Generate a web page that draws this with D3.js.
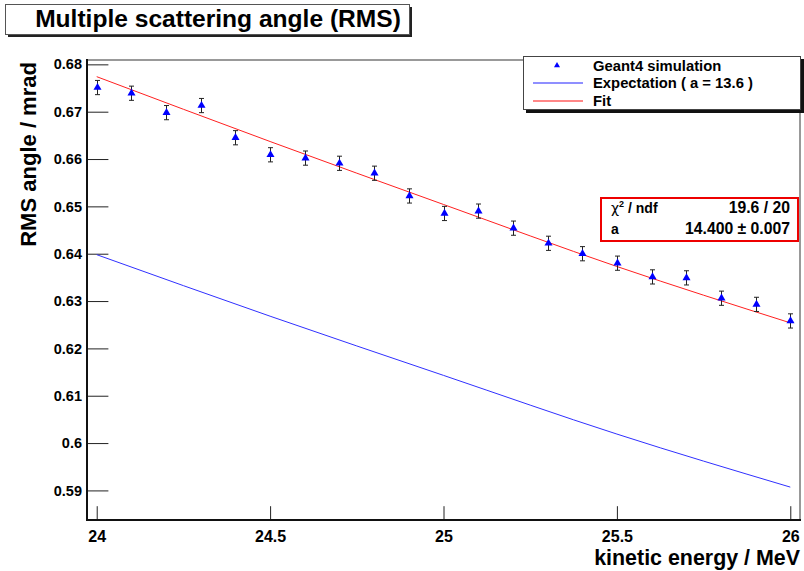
<!DOCTYPE html>
<html><head><meta charset="utf-8">
<script src="https://cdn.jsdelivr.net/npm/d3@7"></script>
<style>
html,body{margin:0;padding:0;background:#fff;}
svg{display:block;}
text{font-family:"Liberation Sans",Arial,Helvetica,sans-serif;font-weight:bold;fill:#000;}
</style></head>
<body>
<svg id="c" width="804" height="571"></svg>
<script>
// ---- data ----
const energies = [24.0,24.1,24.2,24.3,24.4,24.5,24.6,24.7,24.8,24.9,25.0,25.1,25.2,25.3,25.4,25.5,25.6,25.7,25.8,25.9,26.0];
const rmsAngle = [0.6751,0.6739,0.6698,0.6713,0.6645,0.6609,0.6602,0.6591,0.6570,0.6522,0.6485,0.6490,0.6454,0.6422,0.6400,0.6380,0.6351,0.6349,0.6306,0.6293,0.6258];
const rmsError = [0.0015,0.0015,0.0015,0.0015,0.0015,0.0015,0.0015,0.0015,0.0015,0.0015,0.0015,0.0015,0.0015,0.0015,0.0015,0.0015,0.0015,0.0015,0.0015,0.0015,0.0015];
const curveEnergy = [24.0,24.5,25.0,25.5,26.0];
const fitValues = [0.6774,0.6637,0.6504,0.6373,0.6254];
const expectValues = [0.6398,0.6268,0.6143,0.6019,0.5907];
const xTicks = [24,24.5,25,25.5,26];
const xTickLabels = ["24","24.5","25","25.5","26"];
const yTicks = [0.59,0.60,0.61,0.62,0.63,0.64,0.65,0.66,0.67,0.68];
const yTickLabels = ["0.59","0.6","0.61","0.62","0.63","0.64","0.65","0.66","0.67","0.68"];
const titleText = "Multiple scattering angle (RMS)";
const xTitle = "kinetic energy / MeV";
const yTitle = "RMS angle / mrad";
const legendLabels = ["Geant4 simulation","Expectation ( a = 13.6 )","Fit"];
const statsRows = [["χ","2"," / ndf","19.6 / 20"],["a","","","14.400 ± 0.007"]];

const svg = d3.select("#c");
const L=87,R=800,T=60,B=520;
const x = d3.scaleLinear().domain([23.972,26.028]).range([L,R]);
const y = d3.scaleLinear().domain([0.58375,0.68092]).range([B,T]);

function fit(sel,w){const n=sel.node();const s=parseFloat(sel.attr("font-size"));const cw=n.getComputedTextLength();sel.attr("font-size",s*w/cw);return sel;}

// title box
const tb = svg.append("g");
tb.append("rect").attr("x",8).attr("y",7).attr("width",404).attr("height",30).attr("fill","#222");
tb.append("rect").attr("x",5.5).attr("y",4.5).attr("width",404).attr("height",30).attr("fill","#fff").attr("stroke","#555").attr("stroke-width",1);
fit(tb.append("text").attr("x",218).attr("y",26.5).attr("text-anchor","middle").attr("font-size",20).text(titleText),366);

// minor ticks
const yMinor = d3.range(0,47).map(i=>+(0.584+i*0.002).toFixed(3)).filter(v=>v<=0.6809 && yTicks.every(t=>Math.abs(t-v)>1e-6));
const xMinor = d3.range(0,21).map(i=>+(24+i*0.1).toFixed(1)).filter(v=>xTicks.every(t=>Math.abs(t-v)>1e-6));

const gy = svg.append("g").attr("transform",`translate(${L},0)`);
gy.call(d3.axisLeft(y).tickValues(yMinor).tickSize(-10.7).tickFormat(""));
gy.call(d3.axisLeft(y).tickValues(yTicks).tickSize(-21.4).tickPadding(5).tickFormat((d,i)=>yTickLabels[i]));
gy.selectAll(".domain").remove();
gy.selectAll("line").attr("stroke","#222").attr("stroke-width",1);
gy.selectAll("text").attr("font-size",14.5).attr("font-family","Liberation Sans, Arial, sans-serif").attr("font-weight","bold");

const gx = svg.append("g").attr("transform",`translate(0,${B})`);
gx.call(d3.axisBottom(x).tickValues(xMinor).tickSize(-6.9).tickFormat(""));
gx.call(d3.axisBottom(x).tickValues(xTicks).tickSize(-13.8).tickPadding(11).tickFormat((d,i)=>xTickLabels[i]));
gx.selectAll(".domain").remove();
gx.selectAll("line").attr("stroke","#222").attr("stroke-width",1);
gx.selectAll("text").attr("font-size",16).attr("font-family","Liberation Sans, Arial, sans-serif").attr("font-weight","bold");

// frame
svg.append("line").attr("x1",L).attr("x2",R+1).attr("y1",T).attr("y2",T).attr("stroke","#999").attr("stroke-width",2);
svg.append("line").attr("x1",R).attr("x2",R).attr("y1",T).attr("y2",B).attr("stroke","#777").attr("stroke-width",1.5);
svg.append("line").attr("x1",L).attr("x2",L).attr("y1",T-1).attr("y2",B+1).attr("stroke","#111").attr("stroke-width",2);
svg.append("line").attr("x1",L-1).attr("x2",R+1).attr("y1",B).attr("y2",B).attr("stroke","#111").attr("stroke-width",2);

// curves
const line = d3.line().x((d,i)=>x(curveEnergy[i])).y(d=>y(d)).curve(d3.curveMonotoneX);
svg.append("path").datum(expectValues).attr("d",line).attr("fill","none").attr("stroke","#3030ff").attr("stroke-width",1);
svg.append("path").datum(fitValues).attr("d",line).attr("fill","none").attr("stroke","#ff2020").attr("stroke-width",1);

// error bars + markers
const pts = svg.append("g");
const tri = d3.symbol().type(d3.symbolTriangle).size(28);
energies.forEach((e,i)=>{
  const cx=Math.round(x(e))+0.5, y1=y(rmsAngle[i]+rmsError[i]), y2=y(rmsAngle[i]-rmsError[i]);
  pts.append("line").attr("x1",cx).attr("x2",cx).attr("y1",y1).attr("y2",y2).attr("stroke","#222").attr("stroke-width",1);
  pts.append("line").attr("x1",cx-2.5).attr("x2",cx+2.5).attr("y1",y1).attr("y2",y1).attr("stroke","#222").attr("stroke-width",1);
  pts.append("line").attr("x1",cx-2.5).attr("x2",cx+2.5).attr("y1",y2).attr("y2",y2).attr("stroke","#222").attr("stroke-width",1);
  pts.append("path").attr("d",tri).attr("transform",`translate(${cx},${y(rmsAngle[i])})`).attr("fill","#0000ff");
});

// legend
const lg = svg.append("g");
lg.append("rect").attr("x",526).attr("y",59).attr("width",278).attr("height",54).attr("fill","#111");
lg.append("rect").attr("x",523.5).attr("y",56.5).attr("width",277).attr("height",53).attr("fill","#fff").attr("stroke","#444").attr("stroke-width",1);
const rowsY=[65.5,83,101];
lg.append("path").attr("d",d3.symbol().type(d3.symbolTriangle).size(16)).attr("transform",`translate(557,${rowsY[0]})`).attr("fill","#0000ff");
lg.append("line").attr("x1",533).attr("x2",583).attr("y1",rowsY[1]).attr("y2",rowsY[1]).attr("stroke","#2020ff").attr("stroke-width",1.2);
lg.append("line").attr("x1",533).attr("x2",583).attr("y1",rowsY[2]).attr("y2",rowsY[2]).attr("stroke","#ff1010").attr("stroke-width",1.2);
const lt = legendLabels.map((s,i)=>lg.append("text").attr("x",593).attr("y",Math.round(rowsY[i])+5).attr("font-size",13).text(s));
fit(lt[1],160);
lt[0].attr("font-size",lt[1].attr("font-size"));
lt[2].attr("font-size",lt[1].attr("font-size"));

// stats box
const sb = svg.append("g");
sb.append("rect").attr("x",601).attr("y",198).attr("width",197).attr("height",43).attr("fill","#fff").attr("stroke","#ee0000").attr("stroke-width",2);
const r0 = sb.append("text").attr("x",611).attr("y",213).attr("font-size",14);
r0.append("tspan").attr("font-family","DejaVu Sans, sans-serif").attr("font-weight","normal").text(statsRows[0][0]);
r0.append("tspan").attr("font-size",9).attr("dy",-6).text(statsRows[0][1]);
r0.append("tspan").attr("dy",6).text(statsRows[0][2]);
const v0 = sb.append("text").attr("x",790).attr("y",213).attr("text-anchor","end").attr("font-size",14).text(statsRows[0][3]);
sb.append("text").attr("x",611).attr("y",234).attr("font-size",14).text(statsRows[1][0]);
const v1 = sb.append("text").attr("x",790).attr("y",234).attr("text-anchor","end").attr("font-size",14).text(statsRows[1][3]);
fit(v1,105); v0.attr("font-size",v1.attr("font-size"));

// axis titles
fit(svg.append("text").attr("x",800).attr("y",565).attr("text-anchor","end").attr("font-size",18).text(xTitle),206);
fit(svg.append("text").attr("transform","translate(36,62) rotate(-90)").attr("text-anchor","end").attr("font-size",19).text(yTitle),185);
</script>
</body></html>
